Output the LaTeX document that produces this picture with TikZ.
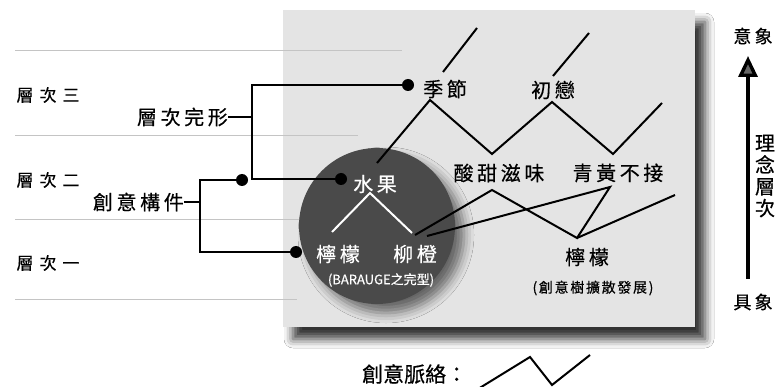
\documentclass[tikz,border=0pt]{standalone}
\usepackage{fontspec}
\setmainfont{Noto Sans CJK TC}
\newfontfamily\cjkA[LetterSpace=18,FakeBold=0.45]{Noto Sans CJK TC}
\newfontfamily\cjkL[LetterSpace=35,FakeBold=0.3]{Noto Sans CJK TC}
\newfontfamily\cjkS[LetterSpace=12,FakeBold=0.45]{Noto Sans CJK TC}
\newfontfamily\cjkN[FakeBold=0.45]{Noto Sans CJK TC}
\usetikzlibrary{shadows.blur,arrows.meta}
\definecolor{panelgray}{HTML}{E4E4E4}
\definecolor{ballgray}{HTML}{4A4A4A}
\definecolor{rulegray}{HTML}{C4C4C4}
\tikzset{
  lab/.style={inner sep=0pt, font=\cjkA\fontsize{20}{22}\selectfont},
  labw/.style={lab, text=white},
  lvl/.style={inner sep=0pt, font=\cjkL\fontsize{17}{19}\selectfont},
  side/.style={inner sep=0pt, font=\cjkA\fontsize{18}{20}\selectfont},
  dotnode/.style={circle, fill=black, minimum size=12pt, inner sep=0pt},
  zz/.style={line width=2pt, line join=miter, line cap=butt},
  wz/.style={line width=2pt, white},
  brk/.style={line width=2.6pt, line join=miter},
  rul/.style={line width=0.8pt, rulegray},
}
\begin{document}
\begin{tikzpicture}[x=1pt,y=-1pt]
\useasboundingbox (0,0) rectangle (776,387);
\fill[white] (0,0) rectangle (776,387);

% panel
\path[fill=panelgray, blur shadow={shadow xshift=10pt, shadow yshift=-12pt, shadow blur radius=9pt, shadow opacity=80}]
  (283,10) rectangle (695,327);

% level rules
\draw[rul] (15,50) -- (402,50);
\draw[rul] (15,135) -- (358,135);
\draw[rul] (15,219) -- (303,219);
\draw[rul] (15,299) -- (297,299);

% level labels
\node[lvl] (l3) at (48,95) {層次三};
\node[lvl] (l2) at (48,180) {層次二};
\node[lvl] (l1) at (48,263) {層次一};

% ball
\node[circle, fill=ballgray, minimum size=156pt, inner sep=0pt,
      blur shadow={shadow xshift=9pt, shadow yshift=-9pt, shadow blur radius=10pt, shadow opacity=55}]
  (ball) at (377,226) {};

\node[labw] (shuiguo) at (375,184) {水果};
\node[labw] (ningw) at (338,254) {檸檬};
\node[labw] (liucheng) at (415,254) {柳橙};
\node[inner sep=0pt, text=white, font=\cjkN\fontsize{13}{15}\selectfont] (barauge) at (381,280) {(BARAUGE之完型)};

\coordinate (wa) at (332,232);
\coordinate (wt) at (370,193);
\coordinate (wb) at (412,233);
\draw[wz] (wa) -- (wt) -- (wb);

% dots
\node[dotnode] (d1) at (408,85) {};
\node[dotnode] (d2) at (341,179) {};
\node[dotnode] (d3) at (242,180) {};
\node[dotnode] (d4) at (296,252) {};

% bracket labels
\node[lab, anchor=east] (wanxing) at (228,117) {層次完形};
\node[lab, anchor=east] (goujian) at (184,202) {創意構件};

\coordinate (b1t) at (252,85);
\coordinate (b1m) at (252,117);
\coordinate (b1b) at (252,179);
\draw[brk] (d1.center) -- (b1t) -- (b1b) -- (d2.center);
\draw[brk] (wanxing.east) -- (b1m);

\coordinate (b2t) at (200,180);
\coordinate (b2m) at (200,202);
\coordinate (b2b) at (200,252);
\draw[brk] (d3.center) -- (b2t) -- (b2b) -- (d4.center);
\draw[brk] (goujian.east) -- (b2m);

% upper zigzag
\coordinate (z0) at (377,163);
\coordinate (z1) at (430,100);
\coordinate (z2) at (492,154);
\coordinate (z3) at (552,102);
\coordinate (z4) at (613,154);
\coordinate (z5) at (662,103);
\draw[zz] (z0) -- (z1) -- (z2) -- (z3) -- (z4) -- (z5);

\coordinate (s1a) at (443,72);
\coordinate (s1b) at (477,28);
\coordinate (s2a) at (553,76);
\coordinate (s2b) at (589,33);
\draw[zz] (s1a) -- (s1b);
\draw[zz] (s2a) -- (s2b);

\node[lab] (jijie) at (445,89) {季節};
\node[lab] (chulian) at (553,90) {初戀};
\node[lab] (suantian) at (499,173) {酸甜滋味};
\node[lab] (qinghuang) at (618,173) {青黃不接};
\node[lab] (ningb) at (587,257) {檸檬};
\node[inner sep=0pt, font=\cjkS\fontsize{14}{16}\selectfont] (kuosan) at (593,288) {(創意樹擴散發展)};

% lower tree lines
\coordinate (t0) at (415,235);
\coordinate (t1) at (492,190);
\coordinate (t2) at (577,238);
\coordinate (t3) at (610,187);
\coordinate (t4) at (427,236);
\coordinate (t5) at (675,195);
\draw[zz] (t0) -- (t1) -- (t2) -- (t3) -- (t4);
\draw[zz] (t2) -- (t5);

% right axis
\node[side] (yixiang) at (753,36) {意象};
\node[side] (juxiang) at (753,302) {具象};
\coordinate (ab) at (748,279);
\coordinate (at) at (748,56);
\draw[line width=3.4pt, -{Triangle[length=21pt,width=19pt]}] (ab) -- (at);
\node[inner sep=0pt, align=center, font=\cjkN\fontsize{20}{21.7}\selectfont] (linian) at (765,176) {理\\念\\層\\次};

% bottom legend
\node[inner sep=0pt, anchor=west, font=\cjkN\fontsize{21}{23}\selectfont] (mailuo) at (362,374) {創意脈絡：};
\coordinate (c0) at (478,389);
\coordinate (c1) at (530,357);
\coordinate (c2) at (552,385);
\coordinate (c3) at (590,355);
\draw[zz] (c0) -- (c1) -- (c2) -- (c3);
\end{tikzpicture}
\end{document}
